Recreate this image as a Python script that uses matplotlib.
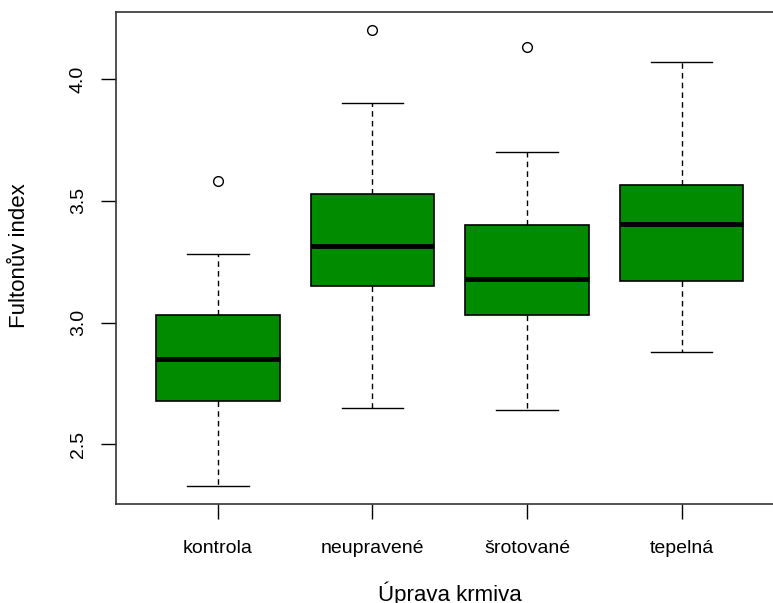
import matplotlib
matplotlib.use("Agg")
import matplotlib.pyplot as plt

groups = ["kontrola", "neupravené", "šrotované", "tepelná"]
whislo = [2.33, 2.65, 2.64, 2.88]
q1 = [2.68, 3.15, 3.03, 3.17]
med = [2.85, 3.315, 3.18, 3.405]
q3 = [3.03, 3.53, 3.40, 3.567]
whishi = [3.28, 3.90, 3.70, 4.07]
fliers = [[3.58], [4.20], [4.13], []]
yticks = [2.5, 3.0, 3.5, 4.0]

plt.rcParams["font.family"] = ["Liberation Sans", "DejaVu Sans"]

fig = plt.figure(figsize=(7.73, 6.03), dpi=100)
ax = fig.add_axes([0.150, 0.164, 0.8637, 0.816])

stats = []
for i, g in enumerate(groups):
    stats.append({
        "label": g,
        "whislo": whislo[i],
        "q1": q1[i],
        "med": med[i],
        "q3": q3[i],
        "whishi": whishi[i],
        "fliers": fliers[i],
    })

positions = list(range(1, len(groups) + 1))
ax.bxp(
    stats,
    positions=positions,
    widths=0.8,
    capwidths=0.4,
    patch_artist=True,
    showfliers=True,
    boxprops=dict(facecolor="#008B00", edgecolor="black", linewidth=1.2),
    medianprops=dict(color="black", linewidth=3.5, solid_capstyle="butt"),
    whiskerprops=dict(color="black", linewidth=1.0, linestyle=(0, (4, 3))),
    capprops=dict(color="black", linewidth=1.0),
    flierprops=dict(marker="o", markerfacecolor="none", markeredgecolor="black",
                    markersize=7, markeredgewidth=1.0),
)

ax.set_xlim(0.34, 4.66)
ax.set_ylim(2.255, 4.275)
ax.set_yticks(yticks)
ax.set_yticklabels([f"{v:.1f}" for v in yticks], rotation=90, va="center")
ax.set_xticks(positions)
ax.set_xticklabels(groups)

ax.tick_params(axis="both", direction="out", length=11, width=1.0, labelsize=14)
ax.tick_params(axis="x", pad=15)
ax.tick_params(axis="y", pad=10)

for s in ax.spines.values():
    s.set_linewidth(1.2)
    s.set_color("#333333")

ax.set_xlabel("Úprava krmiva", fontsize=16)
ax.set_ylabel("Fultonův index", fontsize=16)
ax.xaxis.set_label_coords(0.5, -0.158)
ax.yaxis.set_label_coords(-0.128, 0.504)

fig.savefig("out.png", dpi=100)
